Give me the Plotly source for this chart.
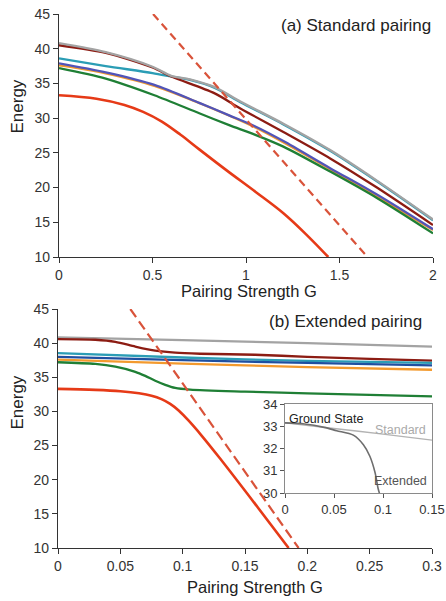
import plotly.graph_objects as go

# ---------------- data: (a) standard pairing ----------------
a_gray_G = [0, 0.25, 0.5, 0.6, 0.7, 0.83, 0.97, 1.2, 1.45, 1.7, 2.0]
a_gray_E = [40.8, 39.5, 37.4, 36.1, 35.6, 34.5, 32.4, 29.2, 25.4, 21.0, 15.4]
a_brown_G = [0, 0.25, 0.5, 0.6, 0.83, 0.97, 1.2, 1.45, 1.7, 2.0]
a_brown_E = [40.5, 39.4, 37.3, 36.0, 33.6, 31.4, 28.0, 24.2, 20.0, 14.6]
a_teal_G = [0, 0.25, 0.5, 0.6, 0.7, 0.83, 0.97, 1.2, 1.45, 1.7, 2.0]
a_teal_E = [38.6, 37.5, 36.5, 36.0, 35.5, 34.4, 32.3, 29.1, 25.3, 20.9, 15.3]
a_blue_G = [0, 0.25, 0.51, 0.75, 0.91, 1.05, 1.2, 1.45, 1.7, 2.0]
a_blue_E = [37.9, 36.6, 34.8, 32.2, 30.4, 28.8, 26.7, 22.8, 19.0, 14.0]
a_orange_G = [0, 0.1, 0.25, 0.51, 1.05, 1.45, 2.0]
a_orange_E = [37.6, 37.2, 36.45, 34.65, 28.65, 22.65, 13.9]
a_green_G = [0, 0.25, 0.51, 0.75, 0.91, 1.05, 1.2, 1.45, 1.7, 2.0]
a_green_E = [37.2, 35.7, 33.3, 30.7, 29.0, 27.6, 25.9, 22.3, 18.5, 13.4]
a_red_G = [0, 0.2, 0.35, 0.45, 0.55, 0.65, 0.75, 0.9, 1.05, 1.2, 1.32, 1.44]
a_red_E = [33.3, 32.8, 31.9, 30.9, 29.5, 27.6, 25.5, 22.4, 19.4, 16.3, 13.3, 10.0]
a_dash_G = [0.503, 1.65]
a_dash_E = [45.0, 10.0]

# ---------------- data: (b) extended pairing ----------------
b_gray_G = [0, 0.1, 0.2, 0.3]
b_gray_E = [40.85, 40.45, 40.0, 39.5]
b_brown_G = [0, 0.03, 0.046, 0.062, 0.078, 0.094, 0.114, 0.158, 0.2, 0.25, 0.3]
b_brown_E = [40.6, 40.5, 40.2, 39.5, 38.9, 38.6, 38.45, 38.3, 38.0, 37.7, 37.45]
b_teal_G = [0, 0.1, 0.2, 0.3]
b_teal_E = [38.55, 37.9, 37.4, 37.1]
b_blue_G = [0, 0.1, 0.2, 0.3]
b_blue_E = [38.0, 37.5, 37.1, 36.75]
b_orange_G = [0, 0.1, 0.2, 0.3]
b_orange_E = [37.6, 37.0, 36.5, 36.1]
b_green_G = [0, 0.03, 0.046, 0.062, 0.07, 0.078, 0.086, 0.094, 0.106, 0.15, 0.2, 0.3]
b_green_E = [37.2, 36.95, 36.55, 35.8, 35.2, 34.5, 33.9, 33.45, 33.2, 32.9, 32.65, 32.2]
b_red_G = [0, 0.03, 0.05, 0.065, 0.075, 0.083, 0.09, 0.097, 0.105, 0.115, 0.13, 0.16, 0.185]
b_red_E = [33.3, 33.15, 32.95, 32.65, 32.3, 31.8, 31.1, 30.1, 28.6, 26.5, 23.1, 16.0, 10.0]
b_dash_G = [0.058, 0.193]
b_dash_E = [45.0, 10.0]

# ---------------- data: inset ----------------
in_std_G = [0, 0.05, 0.1, 0.15]
in_std_E = [33.15, 32.9, 32.65, 32.38]
in_ext_G = [0, 0.02, 0.04, 0.0527, 0.0697, 0.08, 0.0867, 0.092, 0.095, 0.097]
in_ext_E = [33.15, 33.1, 32.95, 32.8, 32.6, 32.17, 31.64, 30.9, 30.2, 29.9]

a_xticks = [0, 0.5, 1, 1.5, 2]
a_xticklabels = ["0", "0.5", "1", "1.5", "2"]
b_xticks = [0, 0.05, 0.1, 0.15, 0.2, 0.25, 0.3]
b_xticklabels = ["0", "0.05", "0.1", "0.15", "0.2", "0.25", "0.3"]
e_ticks = [10, 15, 20, 25, 30, 35, 40, 45]
in_xticks = [0, 0.05, 0.1, 0.15]
in_xticklabels = ["0", "0.05", "0.1", "0.15"]
in_yticks = [30, 31, 32, 33, 34]

# ---------------- styles ----------------
W, H = 446, 601
FONT = "Liberation Sans, Arial, Helvetica, sans-serif"
GRAY = "#a3a3a3"
BROWN = "#8c1c13"
TEAL = "#2b9db5"
BLUE_A = "#5154b8"
BLUE_B = "#1f4fa0"
ORANGE = "#f39a2e"
GREEN = "#1f7f35"
RED = "#e63a17"
DASH = "#d9533a"
LW = 2.3


def X(px):
    return px / W


def Y(py):
    return 1 - py / H


fig = go.Figure()


def add(xs, ys, color, xa, ya, width=LW, dash=None, smooth=0.8):
    fig.add_trace(go.Scatter(
        x=xs, y=ys, mode="lines", xaxis=xa, yaxis=ya,
        line=dict(color=color, width=width, dash=dash, shape="spline", smoothing=smooth),
        hoverinfo="skip", showlegend=False, cliponaxis=True))


# panel (a)
add(a_teal_G, a_teal_E, TEAL, "x", "y")
add(a_orange_G, a_orange_E, ORANGE, "x", "y")
add(a_green_G, a_green_E, GREEN, "x", "y")
add(a_blue_G, a_blue_E, BLUE_A, "x", "y")
add(a_brown_G, a_brown_E, BROWN, "x", "y")
add(a_gray_G, a_gray_E, GRAY, "x", "y")
add(a_red_G, a_red_E, RED, "x", "y", width=2.6, smooth=1.0)
add(a_dash_G, a_dash_E, DASH, "x", "y", width=2.2, dash="8px,5px")

# panel (b)
add(b_gray_G, b_gray_E, GRAY, "x2", "y2")
add(b_brown_G, b_brown_E, BROWN, "x2", "y2")
add(b_orange_G, b_orange_E, ORANGE, "x2", "y2")
add(b_teal_G, b_teal_E, TEAL, "x2", "y2")
add(b_blue_G, b_blue_E, BLUE_B, "x2", "y2")
add(b_green_G, b_green_E, GREEN, "x2", "y2")
add(b_red_G, b_red_E, RED, "x2", "y2", width=2.6, smooth=1.0)
add(b_dash_G, b_dash_E, DASH, "x2", "y2", width=2.2, dash="10px,5px")

# inset
add(in_std_G, in_std_E, "#b3b3b3", "x3", "y3", width=1.3)
add(in_ext_G, in_ext_E, "#6e6e6e", "x3", "y3", width=1.6)

axis_common = dict(
    showline=True, linecolor="#333", linewidth=1.2, ticks="outside",
    ticklen=5, tickwidth=1, tickcolor="#333", showgrid=False, zeroline=False,
    tickfont=dict(family=FONT, size=14, color="#333"), fixedrange=True,
    automargin=False,
)

inset_common = dict(
    showline=True, linecolor="#8a8a8a", linewidth=1, ticks="outside",
    ticklen=4, tickwidth=1, tickcolor="#555", showgrid=False, zeroline=False,
    mirror=True, tickfont=dict(family=FONT, size=13, color="#333"), fixedrange=True,
    automargin=False,
)

fig.update_layout(
    width=W, height=H,
    margin=dict(l=0, r=0, t=0, b=0, autoexpand=False),
    paper_bgcolor="white", plot_bgcolor="rgba(0,0,0,0)",
    font=dict(family=FONT, color="#222"),
    xaxis=dict(axis_common, domain=[X(59), X(433)], range=[0, 2],
               tickvals=a_xticks, ticktext=a_xticklabels, anchor="y"),
    yaxis=dict(axis_common, domain=[Y(257), Y(14)], range=[10, 45],
               tickvals=e_ticks, anchor="x"),
    xaxis2=dict(axis_common, domain=[X(58), X(432)], range=[0, 0.3],
                tickvals=b_xticks, ticktext=b_xticklabels, anchor="y2"),
    yaxis2=dict(axis_common, domain=[Y(548), Y(309)], range=[10, 45],
                tickvals=e_ticks, anchor="x2"),
    xaxis3=dict(inset_common, domain=[X(285), X(432)], range=[0, 0.15],
                tickvals=in_xticks, ticktext=in_xticklabels, anchor="y3"),
    yaxis3=dict(inset_common, domain=[Y(493), Y(404)], range=[30, 34],
                tickvals=in_yticks, anchor="x3"),
)

ann = []


def text(s, px, py, size, xanchor="center", color="#222", angle=0):
    ann.append(dict(text=s, x=X(px), y=Y(py), xref="paper", yref="paper",
                    xanchor=xanchor, yanchor="middle", showarrow=False,
                    textangle=angle, font=dict(family=FONT, size=size, color=color)))


text("(a) Standard pairing", 433, 26, 17, xanchor="right")
text("(b) Extended pairing", 424, 321, 17, xanchor="right")
text("Energy", 16.5, 107, 17, angle=-90)
text("Energy", 16.5, 403, 17, angle=-90)
text("Pairing Strength G", 249, 291, 16.5)
text("Pairing Strength G", 255, 587, 16.5)
text("Ground State", 287, 419, 12.5, xanchor="left", color="#222")
text("Standard", 428, 430, 12.5, xanchor="right", color="#aaaaaa")
text("Extended", 429, 481, 12.5, xanchor="right", color="#555555")
fig.update_layout(annotations=ann)

fig.write_html(
    "out.html",
    config={"displayModeBar": False},
    post_script="document.body.style.margin='0px';document.body.style.overflow='hidden';",
)
